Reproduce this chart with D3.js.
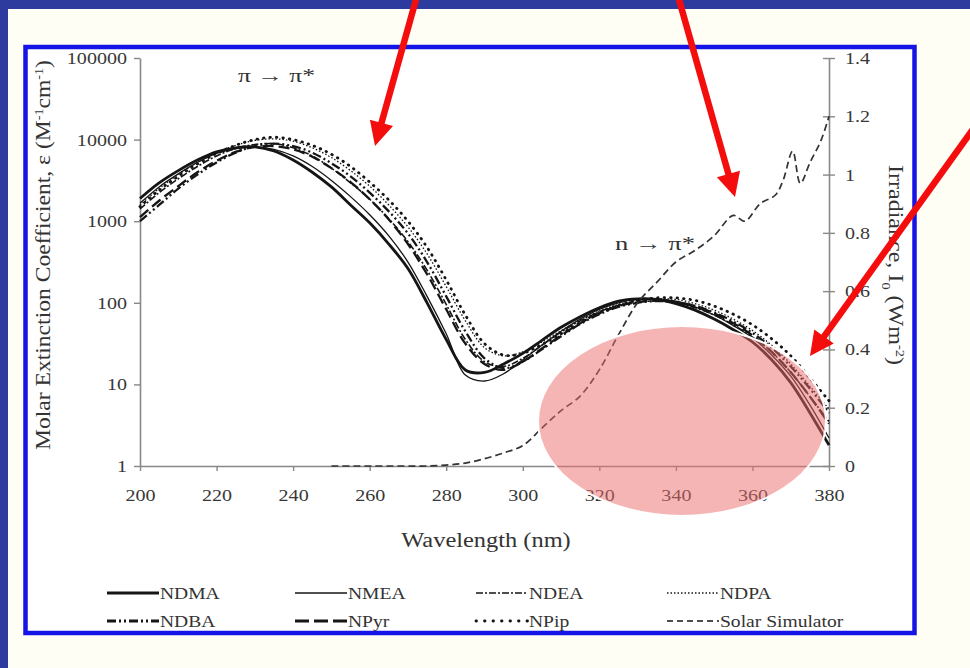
<!DOCTYPE html>
<html>
<head>
<meta charset="utf-8">
<script src="https://cdn.jsdelivr.net/npm/d3@7"></script>
<style>
  body { margin: 0; background: #fffef5; }
  svg { display: block; }
  text { font-family: "Liberation Serif", "DejaVu Serif", serif; }
</style>
</head>
<body>
<div id="chart"></div>
<script>
// wavelength grid (nm) shared by the absorption spectra
const wavelengths = [200, 205, 210, 215, 220, 225, 230, 235, 240, 245, 250, 255, 260, 265, 270, 275, 280, 285, 290, 295,
    300, 305, 310, 315, 320, 325, 330, 335, 340, 345, 350, 355, 360, 365, 370, 375, 380];

// molar extinction coefficient (M^-1 cm^-1)
const ndma = [1900, 2950, 4170, 5620, 7080, 7940, 8130, 7240, 5620, 3980, 2630, 1580, 955, 525, 263, 100, 35.5, 15, 14, 17.8,
    24, 34.7, 50.1, 67.6, 87.1, 105, 112, 110, 97.7, 81.3, 63.1, 46.8, 33.1, 20, 10.5, 4.5, 1.8];
const nmea = [1660, 2630, 3800, 5250, 6760, 7760, 8130, 7590, 6310, 4680, 3160, 2000, 1200, 661, 316, 120, 41.7, 13, 11, 13.5,
    20, 30.2, 44.7, 63.1, 83.2, 100, 110, 112, 105, 89.1, 70.8, 52.5, 37.2, 22.9, 12.6, 5.6, 2.2];
const ndea = [1410, 2240, 3310, 4680, 6310, 7760, 8710, 8910, 7940, 6310, 4470, 2950, 1860, 1070, 562, 251, 95.5, 35.5, 19, 16.6,
    20.9, 30.2, 43.7, 60.3, 77.6, 93.3, 102, 105, 100, 87.1, 70.8, 53.7, 38, 25, 14.1, 7.1, 3.5];
const ndpa = [1580, 2510, 3720, 5250, 6920, 8510, 9770, 10200, 9550, 7940, 6030, 4170, 2690, 1580, 851, 398, 158, 60.3, 28.2, 22.4,
    25, 33.1, 45.7, 61.7, 79.4, 95.5, 107, 112, 110, 97.7, 81.3, 63.1, 45.7, 30.2, 17.8, 9.5, 5.0];
const ndba = [1000, 1580, 2510, 3720, 5250, 6920, 8320, 8910, 8320, 6920, 5130, 3550, 2240, 1320, 708, 316, 120, 44.7, 20.9, 15.8,
    19, 26.9, 38.9, 55, 72.4, 89.1, 100, 105, 102, 91.2, 75.9, 58.9, 42.7, 28.2, 16.6, 8.9, 4.5];
const npyr = [1120, 1780, 2690, 3980, 5500, 7080, 8130, 8320, 7590, 6170, 4470, 3020, 1860, 1050, 525, 224, 83.2, 31.6, 17.8, 15.1,
    19, 27.5, 39.8, 56.2, 74.1, 91.2, 102, 107, 102, 91.2, 74.1, 56.2, 39.8, 25, 14.1, 7.1, 3.3];
const npip = [1510, 2400, 3550, 5010, 6760, 8510, 10000, 10700, 10000, 8510, 6610, 4680, 3020, 1820, 1000, 479, 191, 70.8, 31.6, 22.9,
    24, 30.9, 41.7, 57.5, 75.9, 93.3, 107, 115, 115, 107, 91.2, 72.4, 53.7, 36.3, 22.4, 12, 6.3];

// solar simulator irradiance (W m^-2), right axis
const solarWl = [250, 255, 260, 265, 270, 275, 280, 285, 290, 295, 300, 305, 310, 315, 320, 325, 330, 335, 340, 345,
    350, 355, 358, 362, 366, 368, 370.5, 372.5, 375, 378, 380];
const solarIrr = [0, 0, 0, 0, 0, 0, 0.003, 0.01, 0.025, 0.045, 0.07, 0.13, 0.19, 0.24, 0.33, 0.45, 0.56, 0.63, 0.70, 0.74,
    0.79, 0.86, 0.84, 0.90, 0.93, 0.98, 1.08, 0.97, 1.04, 1.12, 1.20];

const xTicks = [200, 220, 240, 260, 280, 300, 320, 340, 360, 380];
const leftTicks = [1, 10, 100, 1000, 10000, 100000];
const rightTicks = [0, 0.2, 0.4, 0.6, 0.8, 1, 1.2, 1.4];

const width = 970;
const height = 668;

const svg = d3.select("#chart")
    .append("svg")
    .attr("width", width)
    .attr("height", height);

// the scanned figure's text is wider than Liberation Serif, stretch it sideways
function stretch(sel, factor) {
    sel.each(function () {
        const w = this.getComputedTextLength();
        d3.select(this)
            .attr("textLength", w * factor)
            .attr("lengthAdjust", "spacingAndGlyphs");
    });
}

// slide background + blue frame
svg.append("rect").attr("width", width).attr("height", height).attr("fill", "#2d3b9f");
svg.append("rect").attr("x", 8).attr("y", 9).attr("width", width - 8).attr("height", height - 9).attr("fill", "#fffef5");
svg.append("rect")
    .attr("x", 25.5).attr("y", 47)
    .attr("width", 889).attr("height", 586)
    .attr("fill", "#fff")
    .attr("stroke", "#1414e6")
    .attr("stroke-width", 4.5);

const x = d3.scaleLinear().domain([200, 380]).range([140, 829]);
const y = d3.scaleLog().domain([1, 100000]).range([466, 58]);
const yR = d3.scaleLinear().domain([0, 1.4]).range([466, 58]);

// axes
const axisColor = "#888";
const labelColor = "#383838";

function styleAxis(g) {
    g.select(".domain").attr("stroke", axisColor).attr("stroke-width", 1.6);
    g.selectAll(".tick line").attr("stroke", axisColor).attr("stroke-width", 1.4);
    g.selectAll(".tick text")
        .attr("fill", labelColor)
        .style("font-family", "'Liberation Serif', serif")
        .style("font-size", "17px")
        .call(stretch, 1.18);
}

svg.append("g")
    .attr("transform", "translate(0,466)")
    .call(d3.axisBottom(x).tickValues(xTicks).tickSize(5).tickSizeOuter(0).tickPadding(18))
    .call(styleAxis);

svg.append("g")
    .attr("transform", "translate(140,0)")
    .call(d3.axisLeft(y).tickValues(leftTicks).tickFormat(d3.format("d")).tickSize(6).tickSizeOuter(0).tickPadding(7))
    .call(styleAxis);

const rightAxis = svg.append("g")
    .attr("transform", "translate(829,0)")
    .call(d3.axisRight(yR).tickValues(rightTicks).tickFormat(d3.format("~g")).tickSize(6).tickSizeOuter(0).tickPadding(10))
    .call(styleAxis);
rightAxis.selectAll(".tick line").attr("x1", -6).attr("x2", 6);

// axis titles
svg.append("text")
    .attr("transform", "translate(486,547)")
    .attr("text-anchor", "middle")
    .attr("fill", "#333")
    .style("font-size", "20px")
    .text("Wavelength (nm)")
    .call(stretch, 1.22);

const leftTitle = svg.append("text")
    .attr("transform", "translate(50,255) rotate(-90)")
    .attr("text-anchor", "middle")
    .attr("fill", "#333")
    .style("font-size", "20px");
leftTitle.append("tspan").text("Molar Extinction Coefficient, ε (M");
leftTitle.append("tspan").attr("baseline-shift", "super").style("font-size", "12px").text("-1");
leftTitle.append("tspan").text("cm");
leftTitle.append("tspan").attr("baseline-shift", "super").style("font-size", "12px").text("-1");
leftTitle.append("tspan").text(")");
leftTitle.attr("textLength", 390).attr("lengthAdjust", "spacingAndGlyphs");

const rightTitle = svg.append("text")
    .attr("transform", "translate(889,265) rotate(90)")
    .attr("text-anchor", "middle")
    .attr("fill", "#333")
    .style("font-size", "20px");
rightTitle.append("tspan").text("Irradiance, I");
rightTitle.append("tspan").attr("baseline-shift", "sub").style("font-size", "12px").text("0");
rightTitle.append("tspan").text(" (Wm");
rightTitle.append("tspan").attr("baseline-shift", "super").style("font-size", "12px").text("-2");
rightTitle.append("tspan").text(")");
rightTitle.attr("textLength", 200).attr("lengthAdjust", "spacingAndGlyphs");

// band annotations
svg.append("text").attr("x", 238).attr("y", 82).attr("fill", "#333").style("font-size", "19px")
    .text("π → π*").attr("textLength", 77).attr("lengthAdjust", "spacingAndGlyphs");
svg.append("text").attr("x", 615).attr("y", 250).attr("fill", "#333").style("font-size", "19px")
    .text("n → π*").attr("textLength", 80).attr("lengthAdjust", "spacingAndGlyphs");

// spectra
const series = [
    { name: "NDMA", values: ndma, width: 2.8, dash: null, cap: "butt" },
    { name: "NMEA", values: nmea, width: 1.3, dash: null, cap: "butt" },
    { name: "NDEA", values: ndea, width: 1.6, dash: "7,2,2,2", cap: "butt" },
    { name: "NDPA", values: ndpa, width: 1.3, dash: "1.5,2", cap: "butt" },
    { name: "NDBA", values: ndba, width: 2.3, dash: "9,3,2,3,2,3", cap: "butt" },
    { name: "NPyr", values: npyr, width: 2.3, dash: "11,5", cap: "butt" },
    { name: "NPip", values: npip, width: 2.8, dash: "0.5,6", cap: "round" }
];

const specLine = d3.line()
    .x((d, i) => x(wavelengths[i]))
    .y(d => y(d))
    .curve(d3.curveCatmullRom);

svg.append("g").selectAll("path")
    .data(series)
    .enter().append("path")
    .attr("d", d => specLine(d.values))
    .attr("fill", "none")
    .attr("stroke", "#151515")
    .attr("stroke-width", d => d.width)
    .attr("stroke-dasharray", d => d.dash)
    .attr("stroke-linecap", d => d.cap);

const solarLine = d3.line()
    .x((d, i) => x(solarWl[i]))
    .y(d => yR(d))
    .curve(d3.curveCatmullRom);

svg.append("path")
    .attr("d", solarLine(solarIrr))
    .attr("fill", "none")
    .attr("stroke", "#333")
    .attr("stroke-width", 1.7)
    .attr("stroke-dasharray", "7,4");

// legend
const legendItems = [
    { name: "NDMA", width: 2.8, dash: null, cap: "butt" },
    { name: "NMEA", width: 1.3, dash: null, cap: "butt" },
    { name: "NDEA", width: 1.6, dash: "7,2,2,2", cap: "butt" },
    { name: "NDPA", width: 1.3, dash: "1.5,2", cap: "butt" },
    { name: "NDBA", width: 2.8, dash: "9,3,2,3,2,3", cap: "butt" },
    { name: "NPyr", width: 2.8, dash: "14,5", cap: "butt" },
    { name: "NPip", width: 2.8, dash: "0.5,8", cap: "round" },
    { name: "Solar Simulator", width: 1.7, dash: "6,4", cap: "butt" }
];
const legendCols = [107, 295, 476, 667];
const legendRows = [593, 621];
const sampleLen = 52;

const legend = svg.append("g").selectAll("g")
    .data(legendItems)
    .enter().append("g")
    .attr("transform", (d, i) => `translate(${legendCols[i % 4]},${legendRows[Math.floor(i / 4)]})`);

legend.append("line")
    .attr("x1", 0).attr("x2", sampleLen)
    .attr("stroke", "#151515")
    .attr("stroke-width", d => d.width)
    .attr("stroke-dasharray", d => d.dash)
    .attr("stroke-linecap", d => d.cap);

legend.append("text")
    .attr("x", sampleLen + 1)
    .attr("dy", "0.35em")
    .attr("fill", "#333")
    .style("font-size", "17px")
    .text(d => d.name)
    .call(stretch, 1.15);

// pink highlight over the tail of the n -> pi* band
svg.append("ellipse")
    .attr("cx", 682).attr("cy", 421)
    .attr("rx", 144).attr("ry", 95)
    .attr("fill", "#eb6b6b")
    .attr("fill-opacity", 0.5)
    .attr("stroke", "#fff")
    .attr("stroke-width", 2);

// red call-out arrows
const arrows = [
    { from: [417, -4], to: [375, 146] },
    { from: [678, -4], to: [735, 197] },
    { from: [976, 125], to: [810, 356] }
];

arrows.forEach(a => {
    const [x0, y0] = a.from;
    const [x1, y1] = a.to;
    const len = Math.hypot(x1 - x0, y1 - y0);
    const ux = (x1 - x0) / len, uy = (y1 - y0) / len;
    const headLen = 24, headHalf = 12;
    const bx = x1 - ux * headLen, by = y1 - uy * headLen;
    svg.append("line")
        .attr("x1", x0).attr("y1", y0)
        .attr("x2", bx + ux * 2).attr("y2", by + uy * 2)
        .attr("stroke", "#f40d0d")
        .attr("stroke-width", 6.5);
    svg.append("path")
        .attr("d", `M${x1},${y1}L${bx - uy * headHalf},${by + ux * headHalf}L${bx + uy * headHalf},${by - ux * headHalf}Z`)
        .attr("fill", "#f40d0d");
});
</script>
</body>
</html>
